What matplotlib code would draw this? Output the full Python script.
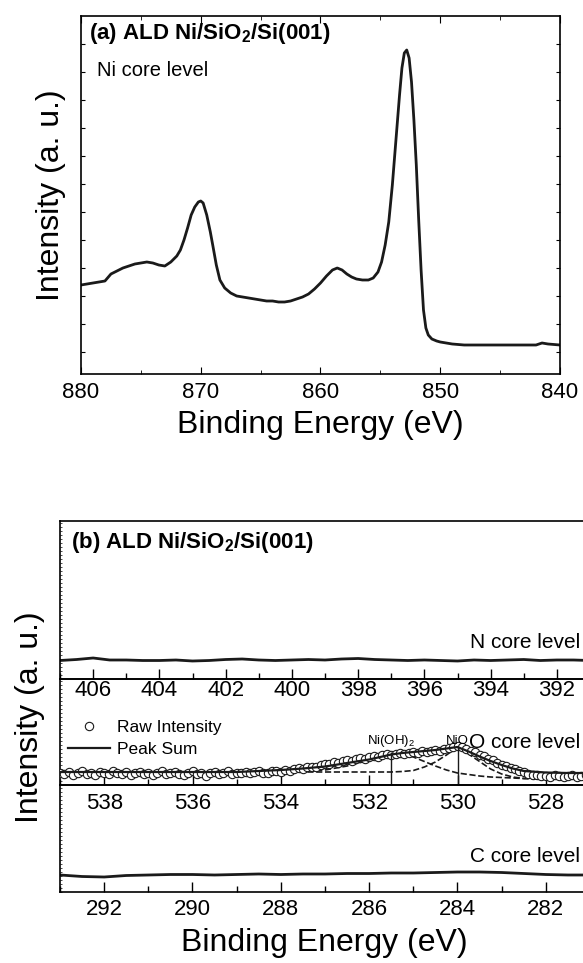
import matplotlib
matplotlib.use("Agg")
import matplotlib.pyplot as plt
import numpy as np
from matplotlib.ticker import MultipleLocator

plt.rcParams['font.family'] = ['Liberation Sans', 'DejaVu Sans']
plt.rcParams['mathtext.fontset'] = 'custom'
plt.rcParams['mathtext.rm'] = 'Liberation Sans'
plt.rcParams['mathtext.bf'] = 'Liberation Sans:bold'
plt.rcParams['axes.linewidth'] = 1.2

# ---- (a) Ni core level ----
ni_E = [880.0, 879.0, 878.0, 877.5, 877.0, 876.5, 876.0, 875.5, 875.0, 874.5,
        874.0, 873.5, 873.0, 872.5, 872.0, 871.7, 871.4, 871.1, 870.8, 870.5,
        870.2, 870.0, 869.8, 869.5, 869.2, 869.0, 868.7, 868.4, 868.0, 867.5,
        867.0, 866.5, 866.0, 865.5, 865.0, 864.5, 864.0, 863.5, 863.0, 862.5,
        862.0, 861.5, 861.0, 860.5, 860.0, 859.5, 859.0, 858.6, 858.2, 857.8,
        857.4, 857.0, 856.5, 856.0, 855.6, 855.2, 854.9, 854.6, 854.3, 854.0,
        853.7, 853.4, 853.2, 853.0, 852.8, 852.6, 852.4, 852.2, 852.0, 851.8,
        851.6, 851.4, 851.2, 851.0, 850.7, 850.3, 850.0, 849.5, 849.0, 848.0,
        846.0, 844.0, 842.0, 841.5, 841.0, 840.0]
ni_I = [89, 91, 93, 100, 103, 106, 108, 110, 111, 112,
        111, 109, 108, 112, 118, 124, 134, 146, 159, 167,
        172, 173, 171, 159, 142, 129, 109, 94, 86, 81,
        78, 77, 76, 75, 74, 73, 73, 72, 72, 73,
        75, 77, 80, 85, 91, 98, 104, 106, 104, 100,
        97, 95, 94, 94, 96, 102, 112, 129, 152, 189,
        234, 279, 306, 321, 324, 316, 292, 254, 209, 154,
        104, 64, 46, 39, 35, 33, 32, 31, 30, 29,
        29, 29, 29, 31, 30, 29]

# ---- (b) N 1s ----
n_E = np.arange(407.0, 390.9, -0.5)
n_I = [18.5, 19.5, 21, 19, 19, 18.5, 18.5, 19, 18, 18.5, 19.5, 20, 19,
       18.5, 19, 19.5, 19, 20, 20.5, 19.5, 19, 18.5, 19, 18.5, 18, 19,
       18.5, 19, 19.5, 18.5, 19, 19, 18.5]

# ---- (b) O 1s ----
o_E = np.round(np.arange(539.0, 526.95, -0.1), 1)
o_raw = [12.5, 11, 13.5, 10.5, 12, 14, 11.5, 12.5, 10, 13, 12.5, 11, 14.5, 12,
         11, 13.5, 10.5, 12, 13.5, 11.5, 12.5, 10, 12.5, 14, 11, 12, 13, 11.5,
         10, 12.5, 14, 11, 12, 9.5, 12.5, 13, 11, 12.5, 14, 11.5, 12,
         12.5, 13.5, 12, 13, 14, 12.5, 12, 14, 14.5, 13.5,
         15, 14.5, 16, 17, 16, 18, 18.5, 18, 20, 21,
         21.5, 23, 22.5, 24, 25, 24.5, 26, 27.5, 26.5, 28,
         29, 28, 30, 31, 30, 31.5, 32, 31, 32.5, 33,
         32.5, 34, 33, 34.5, 35, 34, 36, 37, 38.5, 39.5,
         38, 36, 34, 33, 30.5, 29, 26, 25, 22.5, 20.5,
         19, 17, 16, 14, 13, 11.5, 10.5, 10, 9, 9.5,
         8.5, 10, 9, 8, 9.5, 10, 8.5, 9, 10.5, 9.5]
fit_E = [539.0, 535.0, 534.5, 534.0, 533.5, 533.0, 532.5, 532.0, 531.75, 531.5,
         531.25, 531.0, 530.75, 530.5, 530.25, 530.0, 529.75, 529.5, 529.25,
         529.0, 528.75, 528.5, 528.0, 527.5, 527.0]
peak_sum = [13, 13, 14, 15, 16.5, 18.5, 22, 25.5, 28, 30.5,
            32, 33, 34, 35, 36.5, 38, 33.5, 28.5, 24,
            20, 16.5, 14, 12.5, 12, 12]
nioh_fit = [13, 13, 13, 13, 13.5, 15, 19, 25, 29, 32,
            31, 28, 23.5, 19, 15, 12, 10.5, 9, 8,
            7.5, 7, 6.5, 6, 6, 6]
nio_fit = [13, 13, 13, 13, 13, 13, 13, 13, 13, 13,
           13.5, 14.5, 18, 23, 30, 38, 31, 23.5, 16,
           11, 8, 6.5, 6, 6, 6]
comp_pos = [531.5, 530.0]
comp_top = [33, 38.5]
comp_names = ['Ni(OH)$_2$', 'NiO']

# ---- (b) C 1s ----
c_E = np.arange(293.0, 280.9, -0.5)
c_I = [17, 15.5, 15, 16.5, 17, 17.5, 17.5, 17, 17.5, 18, 17.5, 18, 18,
       18.5, 18.5, 19, 19, 19.5, 20, 20, 19.5, 18.5, 17.5, 17, 17]

W, H = 583, 963
ink = '#1a1a1a'


def box(l, t, r, b):
    return [l / W, 1 - b / H, (r - l) / W, (b - t) / H]


fig = plt.figure(figsize=(W / 100, H / 100), dpi=100)

# panel (a)
axa = fig.add_axes(box(81, 16, 560, 374))
axa.plot(ni_E, ni_I, color=ink, lw=2.0)
axa.set_xlim(880, 840)
axa.set_ylim(0, 358)
axa.set_xticks([880, 870, 860, 850, 840])
axa.xaxis.set_minor_locator(MultipleLocator(5))
axa.set_yticks(np.arange(22, 358, 28))
axa.set_yticklabels([])
axa.tick_params(axis='x', which='major', direction='in', top=True, length=5,
                labelsize=16, pad=6)
axa.tick_params(axis='x', which='minor', direction='in', top=True, length=3)
axa.tick_params(axis='y', direction='in', left=True, right=True, length=3)
axa.text(8 / 479, (374 - 33) / 358, r'(a) ALD Ni/SiO$_\mathbf{2}$/Si(001)',
         transform=axa.transAxes, fontsize=16, fontweight='bold', va='center')
axa.text(16 / 479, (374 - 70) / 358, 'Ni core level', transform=axa.transAxes,
         fontsize=14.5, va='center')
fig.text(51 / W, 1 - 195 / H, 'Intensity (a. u.)', rotation=90,
         ha='center', va='center', fontsize=23)
fig.text(320 / W, 1 - 425 / H, 'Binding Energy (eV)', ha='center',
         va='center', fontsize=23)

# panel (b): three stacked regions sharing one frame
axN = fig.add_axes(box(60, 521, 590, 679))
axO = fig.add_axes(box(60, 679, 590, 785))
axC = fig.add_axes(box(60, 785, 590, 892))

axN.plot(n_E, n_I, color=ink, lw=2.0)
axN.set_xlim(407, 391)
axN.set_ylim(0, 158)
axN.set_xticks(np.arange(406, 391, -2))

axO.plot(o_E, o_raw, 'o', ms=6, mfc='white', mec=ink, mew=0.8,
         label='Raw Intensity', zorder=3)
axO.plot(fit_E, peak_sum, '-', color=ink, lw=1.6, label='Peak Sum', zorder=4)
axO.plot(fit_E, nioh_fit, '--', color=ink, lw=1.2, zorder=2)
axO.plot(fit_E, nio_fit, '--', color=ink, lw=1.2, zorder=2)
axO.vlines(comp_pos, 0, comp_top, color=ink, lw=1.0, zorder=5)
for xp, name in zip(comp_pos, comp_names):
    axO.text(xp, 44, name, ha='center', va='center', fontsize=9.5)
axO.set_xlim(539, 527)
axO.set_ylim(0, 106)
axO.set_xticks(np.arange(538, 527, -2))
axO.legend(loc='upper left', bbox_to_anchor=(0.015, 0.61), frameon=False,
           fontsize=12.5, borderpad=0, borderaxespad=0, handlelength=2.4,
           handletextpad=0.4, labelspacing=0.35)

axC.plot(c_E, c_I, color=ink, lw=2.0)
axC.set_xlim(293, 281)
axC.set_ylim(0, 107)
axC.set_xticks(np.arange(292, 281, -2))

for ax, pad in ((axN, 1), (axO, 6), (axC, 5)):
    ax.patch.set_alpha(0)
    ax.xaxis.set_minor_locator(MultipleLocator(1))
    ax.yaxis.set_major_locator(MultipleLocator(4))
    ax.set_yticklabels([])
    ax.tick_params(axis='x', which='major', direction='in', length=7,
                   width=1.0, labelsize=16, pad=pad)
    ax.tick_params(axis='x', which='minor', direction='in', length=4, width=1.0)
    ax.tick_params(axis='y', direction='in', length=1.5, width=0.5)

axN.text(11 / 530, (679 - 542) / 158,
         r'(b) ALD Ni/SiO$_\mathbf{2}$/Si(001)', transform=axN.transAxes,
         fontsize=16, fontweight='bold', va='center')
for ax, yy, name in ((axN, (679 - 642) / 158, 'N core level'),
                     (axO, (785 - 742) / 106, 'O core level'),
                     (axC, (892 - 857) / 107, 'C core level')):
    ax.text(520 / 530, yy, name, transform=ax.transAxes, ha='right',
            va='center', fontsize=15)

fig.text(30 / W, 1 - 717 / H, 'Intensity (a. u.)', rotation=90,
         ha='center', va='center', fontsize=23)
fig.text(324 / W, 1 - 943 / H, 'Binding Energy (eV)', ha='center',
         va='center', fontsize=23)

fig.savefig('out.png', dpi=100)
